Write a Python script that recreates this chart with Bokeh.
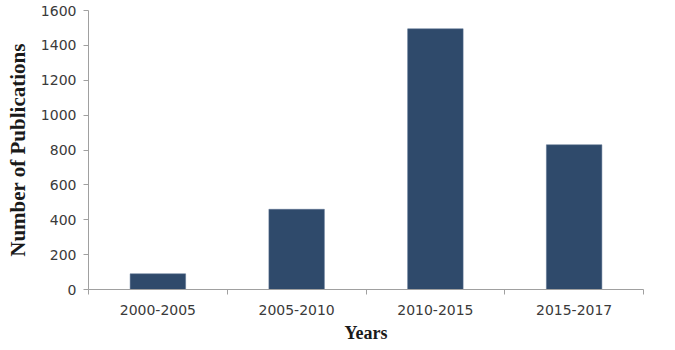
from bokeh.plotting import figure
from bokeh.models import Range1d, FixedTicker, ColumnDataSource
from bokeh.embed import file_html
from bokeh.resources import INLINE

categories = ["2000-2005", "2005-2010", "2010-2015", "2015-2017"]
publications = [90, 460, 1495, 830]
y_ticks = [0, 200, 400, 600, 800, 1000, 1200, 1400, 1600]

centers = [i + 0.5 for i in range(len(categories))]
bounds = list(range(len(categories) + 1))

src = ColumnDataSource(dict(x=centers, top=publications, cat=categories))

p = figure(width=675, height=350, output_backend="svg", toolbar_location=None,
           x_range=Range1d(0, len(categories)), y_range=Range1d(0, 1600),
           min_border_left=88, min_border_right=32, min_border_top=10, min_border_bottom=61)
p.outline_line_color = None
p.xgrid.grid_line_color = None
p.ygrid.grid_line_color = None
p.background_fill_color = "white"
p.border_fill_color = "white"

p.vbar(x="x", top="top", width=0.4, bottom=0, source=src,
       fill_color="#2F4A6B", line_color="#5A7090", line_width=0.5)

axis_gray = "#A0A0A0"
xa = p.xaxis[0]
xa.ticker = FixedTicker(ticks=centers, minor_ticks=bounds)
xa.major_label_overrides = {c: lab for c, lab in zip(centers, categories)}
xa.major_tick_line_color = None
xa.major_tick_out = 0
xa.major_tick_in = 0
xa.minor_tick_line_color = axis_gray
xa.minor_tick_out = 5
xa.minor_tick_in = 0
xa.axis_line_color = axis_gray
xa.major_label_standoff = 10
xa.major_label_text_font = "DejaVu Sans"
xa.major_label_text_font_size = "14px"
xa.major_label_text_color = "#3a3a3a"
xa.axis_label = "Years"
xa.axis_label_text_font = "Liberation Serif"
xa.axis_label_text_font_style = "bold"
xa.axis_label_text_font_size = "18px"
xa.axis_label_text_color = "#1a1a1a"
xa.axis_label_standoff = 5

ya = p.yaxis[0]
ya.ticker = FixedTicker(ticks=y_ticks, minor_ticks=[])
ya.major_tick_line_color = axis_gray
ya.major_tick_out = 5
ya.major_tick_in = 0
ya.minor_tick_line_color = None
ya.axis_line_color = axis_gray
ya.major_label_standoff = 7
ya.major_label_text_font = "DejaVu Sans"
ya.major_label_text_font_size = "14px"
ya.major_label_text_color = "#3a3a3a"
ya.axis_label = "Number of Publications"
ya.axis_label_text_font = "Liberation Serif"
ya.axis_label_text_font_style = "bold"
ya.axis_label_text_font_size = "21px"
ya.axis_label_text_color = "#1a1a1a"
ya.axis_label_standoff = 8

open("out.html", "w").write(file_html(p, INLINE))
